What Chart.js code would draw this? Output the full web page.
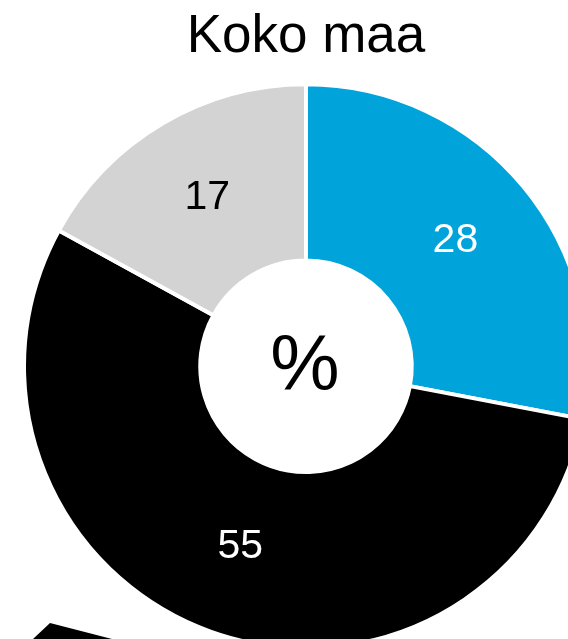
<!DOCTYPE html>
<html>
<head>
<meta charset="utf-8">
<script src="https://cdn.jsdelivr.net/npm/chart.js@4.4.1/dist/chart.umd.min.js"></script>
<style>
  html, body { margin: 0; padding: 0; background: #fff; overflow: hidden; }
  #wrap { position: relative; width: 612px; height: 651px; }
  #corner { position: absolute; left: 0; top: 0; width: 568px; height: 639px; pointer-events: none;
            background: #000; clip-path: polygon(33px 639px, 50px 623px, 112px 639px); }
</style>
</head>
<body>
<div id="wrap">
  <canvas id="chart" width="612" height="651"></canvas>
  <div id="corner"></div>
</div>
<script>
const title = "Koko maa";
const categories = ["Kyllä", "Ei", "En osaa sanoa"];
const values = [28, 55, 17];
const colors = ["#00A3DA", "#000000", "#D3D3D3"];
const labelColors = ["#ffffff", "#ffffff", "#000000"];
const centerText = "%";

const sliceLabels = {
  id: "sliceLabels",
  afterDatasetsDraw(chart) {
    const ctx = chart.ctx;
    const meta = chart.getDatasetMeta(0);
    ctx.save();
    ctx.font = "41px 'Liberation Sans', Arial, sans-serif";
    ctx.textAlign = "center";
    ctx.textBaseline = "middle";
    meta.data.forEach((arc, i) => {
      const p = arc.tooltipPosition();
      ctx.fillStyle = labelColors[i];
      ctx.fillText(String(values[i]), p.x, p.y - 2);
    });
    const c = meta.data[0];
    ctx.fillStyle = "#000";
    ctx.font = "78px 'Liberation Sans', Arial, sans-serif";
    ctx.fillText(centerText, c.x - 1, c.y + 2);
    ctx.restore();
  }
};

new Chart(document.getElementById("chart").getContext("2d"), {
  type: "doughnut",
  data: {
    labels: categories,
    datasets: [{
      data: values,
      backgroundColor: colors,
      borderColor: "#ffffff",
      borderWidth: 4
    }]
  },
  options: {
    responsive: false,
    animation: false,
    radius: 282,
    cutout: 106,
    layout: { padding: 0 },
    plugins: {
      legend: { display: false },
      tooltip: { enabled: false },
      title: {
        display: true,
        text: title,
        color: "#000",
        font: { family: "'Liberation Sans', Arial, sans-serif", size: 53, weight: "normal", lineHeight: 1.2 },
        padding: { top: 6, bottom: 12 }
      }
    }
  },
  plugins: [sliceLabels]
});
</script>
</body>
</html>
